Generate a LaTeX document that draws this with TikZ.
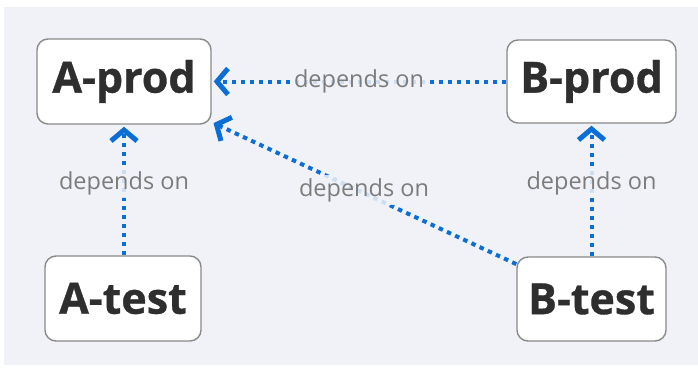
\documentclass[tikz,border=0pt]{standalone}
\usepackage{fontspec}
\setmainfont{Open Sans}
\newfontfamily\boxfont{Open Sans}[BoldFeatures={FakeBold=0.8}]
\usetikzlibrary{arrows.meta}
\definecolor{bgpanel}{HTML}{F1F2F8}
\definecolor{edgeblue}{HTML}{0A6ED6}
\definecolor{boxborder}{HTML}{8A8A8A}
\definecolor{boxtext}{HTML}{2E2E2E}
\definecolor{labeltext}{HTML}{7C7C7C}
\tikzset{
  box/.style={draw=boxborder, line width=1.4pt, fill=white, rounded corners=11pt,
    inner sep=0pt, text=boxtext, font=\boxfont\fontsize{43}{45}\selectfont\bfseries},
  dep/.style={draw=edgeblue, line width=4pt, dash pattern=on 4.5pt off 4.5pt,
    -{Straight Barb[length=11pt,width=26pt,line width=5pt]}, shorten >=2pt},
  deplabel/.style={fill=bgpanel, fill opacity=0.85, text opacity=1, text=labeltext,
    inner sep=3pt, font=\fontsize{23.5}{25}\selectfont}
}
\begin{document}
\begin{tikzpicture}[x=1pt,y=-1pt]
\useasboundingbox (0,0) rectangle (698,369);
\fill[white] (0,0) rectangle (698,369);
\fill[bgpanel] (4,7) rectangle (698,365);
\node[box, minimum width=174pt, minimum height=85pt] (Aprod) at (124,81.5) {A-prod};
\node[box, minimum width=169pt, minimum height=83pt] (Bprod) at (591.5,81.5) {B-prod};
\node[box, minimum width=156pt, minimum height=85pt] (Atest) at (123,298.5) {A-test};
\node[box, minimum width=149pt, minimum height=84pt] (Btest) at (591.5,299) {B-test};
\draw[dep] (Bprod) -- node[deplabel] (l1) {depends on} (Aprod);
\draw[dep] (Atest.north -| Aprod.south) -- node[deplabel, pos=0.55] (l2) {depends on} (Aprod.south);
\draw[dep] (Btest) -- node[deplabel, pos=0.55] (l3) {depends on} (Bprod);
\draw[dep] (Btest) -- node[deplabel, pos=0.5, yshift=3pt] (l4) {depends on} (Aprod);
\end{tikzpicture}
\end{document}
